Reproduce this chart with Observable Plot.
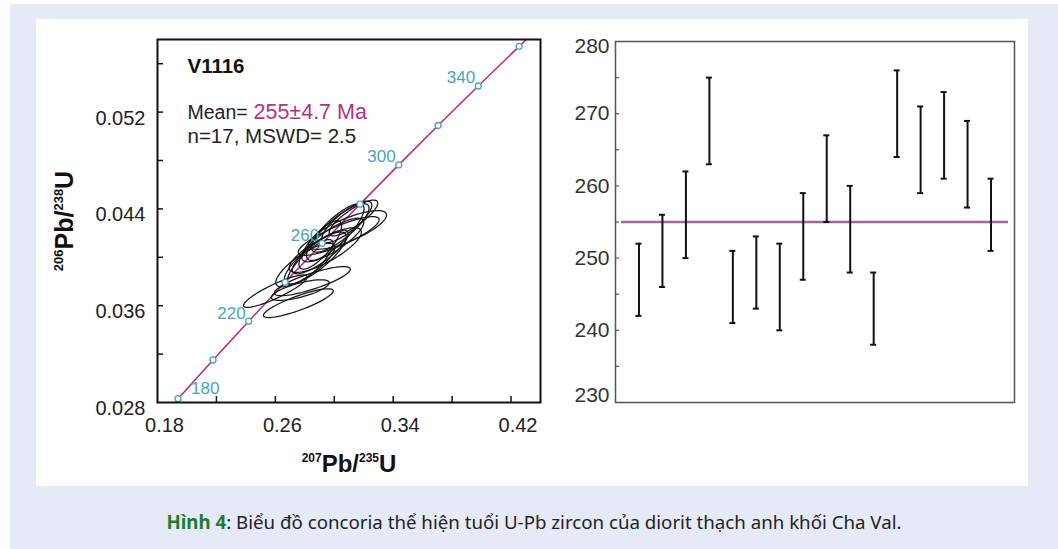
<!DOCTYPE html>
<html><head><meta charset="utf-8">
<script src="https://cdn.jsdelivr.net/npm/d3@7"></script>
<script src="https://cdn.jsdelivr.net/npm/@observablehq/plot@0.6"></script>
<style>
body{margin:0;width:1058px;height:549px;background:#fff;position:relative;overflow:hidden;font-family:"Liberation Sans",Arial,sans-serif}
#bg{position:absolute;left:10px;top:4px;width:1048px;height:545px;background:#e6eaf6}
#panel{position:absolute;left:36px;top:19px;width:992px;height:467px;background:#fff}
#left{position:absolute;left:0;top:0}
#right{position:absolute;left:560px;top:0}
#caption{position:absolute;left:10px;width:1048px;top:509px;text-align:center;font-family:"Noto Sans",sans-serif;font-size:18.7px;color:#222;white-space:nowrap}
#caption b{color:#1e7a35}
</style></head>
<body>
<div id="bg"></div>
<div id="panel"></div>
<div id="left"></div>
<div id="right"></div>
<div id="caption"><b>Hình 4</b>: Biểu đồ concoria thể hiện tuổi U-Pb zircon của diorit thạch anh khối Cha Val.</div>
<script>
// ---- Concordia curve (ages in Ma) ----
const concordiaAges = [180, 200, 220, 240, 260, 280, 300, 320, 340, 360, 370];
const concordiaPb207U235 = [0.19396, 0.21771, 0.24193, 0.26664, 0.29183, 0.31753, 0.34374, 0.37047, 0.39773, 0.42553, 0.43964];
const concordiaPb206U238 = [0.028316, 0.031511, 0.034717, 0.037932, 0.041157, 0.044392, 0.047637, 0.050893, 0.054158, 0.057433, 0.059075];
const markerAges = [180, 200, 220, 240, 260, 280, 300, 320, 340, 360];
const labeledAges = [180, 220, 260, 300, 340];

// ---- Error ellipses (n = 17) ----
const ellPb207U235 = [0.2756, 0.2600, 0.2851, 0.2769, 0.2803, 0.2871, 0.2905, 0.2939, 0.2837, 0.2990, 0.3030, 0.3041, 0.3085, 0.3130, 0.3007, 0.3090, 0.2905];
const ellPb206U238 = [0.03621, 0.03720, 0.03803, 0.03729, 0.03936, 0.03994, 0.04044, 0.04060, 0.03961, 0.04143, 0.04176, 0.04243, 0.04292, 0.04325, 0.04209, 0.04226, 0.04102];
const ellSig207 = [0.0237, 0.0216, 0.0258, 0.0197, 0.0200, 0.0210, 0.0190, 0.0245, 0.0155, 0.0210, 0.0275, 0.0195, 0.0170, 0.0165, 0.0195, 0.0265, 0.0145];
const ellSig206 = [0.00119, 0.00134, 0.00120, 0.00085, 0.00180, 0.00215, 0.00180, 0.00185, 0.00185, 0.00180, 0.00160, 0.00200, 0.00172, 0.00148, 0.00235, 0.00160, 0.00200];
const ellRho = [0.85, 0.88, 0.82, 0.71, 0.80, 0.82, 0.83, 0.80, 0.82, 0.81, 0.84, 0.82, 0.81, 0.83, 0.82, 0.77, 0.79];

// ---- Left axes ----
const xTickLabels = [0.18, 0.26, 0.34, 0.42];
const yTickLabels = [0.028, 0.036, 0.044, 0.052];
const xTickMarks = [0.22, 0.26, 0.30, 0.34, 0.38, 0.42];
const yTickMarks = [0.032, 0.036, 0.040, 0.044, 0.048, 0.052, 0.056];

// ---- Right panel: 206Pb/238U ages with error bars ----
const spotLow  = [242, 246, 250, 263, 241, 243, 240, 247, 255, 248, 238, 264, 259, 261, 257, 251];
const spotHigh = [252, 256, 262, 275, 251, 253, 252, 259, 267, 260, 248, 276, 271, 273, 269, 261];
const meanAge = 255;
const ageTickLabels = [240, 250, 260, 270];
const ageTickMarks = [235, 240, 245, 250, 255, 260, 265, 270, 275];

// ---- build tables ----
const concordia = concordiaAges.map((a, i) => ({age: a, x: concordiaPb207U235[i], y: concordiaPb206U238[i]}));
const markers = concordia.filter(d => markerAges.includes(d.age));
const labelsMain = concordia.filter(d => labeledAges.includes(d.age) && d.age !== 180);
const label180 = concordia.filter(d => d.age === 180);

const ellipsePts = [];
ellPb207U235.forEach((cx, i) => {
  const cy = ellPb206U238[i], sx = ellSig207[i], sy = ellSig206[i], r = ellRho[i];
  const q = Math.sqrt(1 - r * r);
  for (let k = 0; k <= 72; k++) {
    const t = (k / 72) * 2 * Math.PI;
    ellipsePts.push({id: i, x: cx + sx * Math.cos(t), y: cy + sy * (r * Math.cos(t) + q * Math.sin(t))});
  }
});

const spots = spotLow.map((lo, i) => ({i: i + 1, lo, hi: spotHigh[i]}));

const FONT = "Liberation Sans, Arial, sans-serif";
const MAG = "#b8307e";
const CYAN = "#4aa3c0";

// left frame: 383 x 363 px ; right frame: 399 x 361 px
const left = Plot.plot({
  width: 560, height: 490,
  marginLeft: 157, marginRight: 20, marginTop: 39, marginBottom: 88,
  style: {fontFamily: FONT, background: "transparent", overflow: "visible"},
  x: {domain: [0.18, 0.44], label: null},
  y: {domain: [0.028, 0.058], label: null},
  marks: [
    Plot.line(concordia, {x: "x", y: "y", stroke: MAG, strokeWidth: 1.6, clip: true}),
    Plot.line(ellipsePts, {x: "x", y: "y", z: "id", stroke: "#151515", strokeWidth: 1.25}),
    Plot.dot(markers, {x: "x", y: "y", r: 3, stroke: CYAN, fill: "white", strokeWidth: 1.3}),
    Plot.text(labelsMain, {x: "x", y: "y", text: d => String(d.age), textAnchor: "end", dx: -3, dy: -8, fill: CYAN, fontSize: 17}),
    Plot.text(label180, {x: "x", y: "y", text: d => String(d.age), textAnchor: "start", dx: 13, dy: -10, fill: CYAN, fontSize: 17}),
    Plot.ruleX(xTickMarks, {x: d => d, insetTop: 357, stroke: "#111", strokeWidth: 1.5}),
    Plot.ruleY(yTickMarks, {y: d => d, insetRight: 377, stroke: "#111", strokeWidth: 1.5}),
    Plot.frame({stroke: "#111", strokeWidth: 2}),
    Plot.axisX({ticks: xTickLabels, tickSize: 0, tickPadding: 15, dx: 7, tickFormat: d => d.toFixed(2), fontSize: 20, fill: "#222", label: null}),
    Plot.axisY({ticks: yTickLabels, tickSize: 0, tickPadding: 12, dy: 6, tickFormat: d => d.toFixed(3), fontSize: 20, fill: "#222", label: null}),
    Plot.text(["V1116"], {frameAnchor: "top-left", textAnchor: "start", lineAnchor: "middle", dx: 30, dy: 27, fontSize: 20.5, fontWeight: "bold", fill: "#111"}),
    Plot.text(["Mean="], {frameAnchor: "top-left", textAnchor: "start", lineAnchor: "middle", dx: 30, dy: 73, fontSize: 19.5, fill: "#222"}),
    Plot.text(["255±4.7 Ma"], {frameAnchor: "top-left", textAnchor: "start", lineAnchor: "middle", dx: 96, dy: 73, fontSize: 21.5, fill: MAG}),
    Plot.text(["n=17, MSWD= 2.5"], {frameAnchor: "top-left", textAnchor: "start", lineAnchor: "middle", dx: 30, dy: 97, fontSize: 20.5, fill: "#222"})
  ]
});
document.getElementById("left").appendChild(left);

// axis titles with superscripts
const sL = d3.select(left);
const yt = sL.append("text").attr("transform", "translate(73,221) rotate(-90)")
  .attr("text-anchor", "middle").attr("font-weight", "bold").attr("font-size", 25).attr("fill", "#111").attr("font-family", FONT);
yt.append("tspan").attr("font-size", 13).attr("dy", -10).text("206");
yt.append("tspan").attr("dy", 10).text("Pb/");
yt.append("tspan").attr("font-size", 13).attr("dy", -10).text("238");
yt.append("tspan").attr("dy", 10).text("U");
const xt = sL.append("text").attr("transform", "translate(349,472)")
  .attr("text-anchor", "middle").attr("font-weight", "bold").attr("font-size", 24).attr("fill", "#111").attr("font-family", FONT);
xt.append("tspan").attr("font-size", 12).attr("dy", -10).text("207");
xt.append("tspan").attr("dy", 10).text("Pb/");
xt.append("tspan").attr("font-size", 12).attr("dy", -10).text("235");
xt.append("tspan").attr("dy", 10).text("U");

const right = Plot.plot({
  width: 498, height: 490,
  marginLeft: 55, marginRight: 44, marginTop: 41, marginBottom: 88,
  style: {fontFamily: FONT, background: "transparent", overflow: "visible"},
  x: {domain: [0, 17], axis: null},
  y: {domain: [230, 280], label: null},
  marks: [
    Plot.ruleY([meanAge], {stroke: "#a36596", strokeWidth: 2.5, insetLeft: 6, insetRight: 6}),
    Plot.ruleX(spots, {x: "i", y1: "lo", y2: "hi", stroke: "#111", strokeWidth: 2}),
    Plot.ruleY(spots, {y: "hi", x1: "i", x2: "i", insetLeft: -3, insetRight: -3, stroke: "#111", strokeWidth: 2}),
    Plot.ruleY(spots, {y: "lo", x1: "i", x2: "i", insetLeft: -3, insetRight: -3, stroke: "#111", strokeWidth: 2}),
    Plot.ruleY(ageTickMarks, {y: d => d, insetRight: 395, stroke: "#555", strokeWidth: 1.2}),
    Plot.frame({stroke: "#555", strokeWidth: 1.5}),
    Plot.axisY({ticks: ageTickLabels, tickSize: 0, tickPadding: 6, fontSize: 21, fill: "#333", label: null}),
    Plot.axisY({ticks: [280], tickSize: 0, tickPadding: 6, dy: 5, fontSize: 21, fill: "#333", label: null}),
    Plot.axisY({ticks: [230], tickSize: 0, tickPadding: 6, dy: -7, fontSize: 21, fill: "#333", label: null})
  ]
});
document.getElementById("right").appendChild(right);
</script>
</body></html>
